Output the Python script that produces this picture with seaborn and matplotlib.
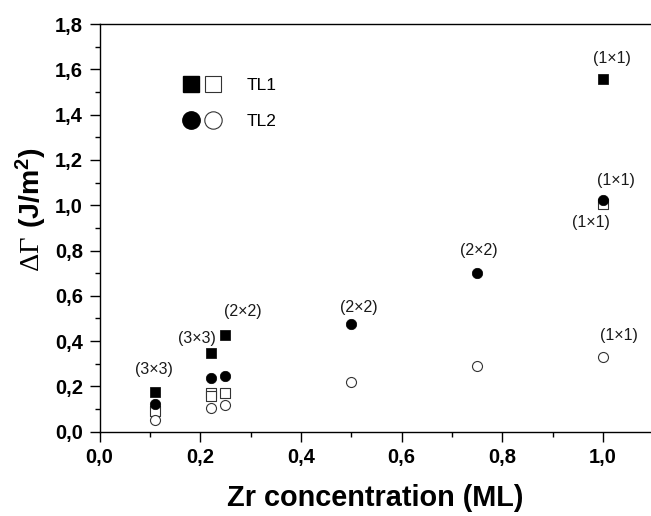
import numpy as np
import pandas as pd
import seaborn as sns
import matplotlib
matplotlib.use("Agg")
import matplotlib.pyplot as plt
from matplotlib.lines import Line2D
from matplotlib.legend_handler import HandlerTuple
from matplotlib.ticker import FixedLocator, MultipleLocator

# ---- data ----
tl1_filled_x = [0.111, 0.222, 0.25, 1.0]
tl1_filled_y = [0.177, 0.346, 0.427, 1.556]
tl1_open_x = [0.111, 0.222, 0.222, 0.25, 1.0]
tl1_open_y = [0.090, 0.169, 0.157, 0.173, 1.005]
tl2_filled_x = [0.111, 0.222, 0.25, 0.5, 0.75, 1.0]
tl2_filled_y = [0.121, 0.236, 0.247, 0.476, 0.699, 1.023]
tl2_open_x = [0.111, 0.222, 0.25, 0.5, 0.75, 1.0]
tl2_open_y = [0.052, 0.103, 0.118, 0.221, 0.290, 0.331]

ann_text = ["(3×3)", "(3×3)", "(2×2)", "(2×2)", "(2×2)", "(1×1)", "(1×1)", "(1×1)", "(1×1)"]
ann_x = [0.107, 0.193, 0.285, 0.514, 0.753, 1.017, 1.025, 0.975, 1.032]
ann_y = [0.275, 0.411, 0.529, 0.550, 0.799, 1.649, 1.108, 0.925, 0.423]

xtick_vals = [0.0, 0.2, 0.4, 0.6, 0.8, 1.0]
xtick_labels = ["0,0", "0,2", "0,4", "0,6", "0,8", "1,0"]
ytick_vals = [0.0, 0.2, 0.4, 0.6, 0.8, 1.0, 1.2, 1.4, 1.6, 1.8]
ytick_labels = ["0,0", "0,2", "0,4", "0,6", "0,8", "1,0", "1,2", "1,4", "1,6", "1,8"]
legend_labels = ["TL1", "TL2"]

sns.set_style("ticks")
plt.rcParams["font.family"] = ["Liberation Sans", "DejaVu Sans"]
plt.rcParams["mathtext.fontset"] = "custom"
plt.rcParams["mathtext.rm"] = "Liberation Serif"
plt.rcParams["mathtext.bf"] = "Liberation Sans:bold"
plt.rcParams["mathtext.sf"] = "Liberation Sans"
plt.rcParams["text.color"] = "black"
plt.rcParams["axes.labelcolor"] = "black"

fig = plt.figure(figsize=(6.51, 5.16), dpi=100)
ax = fig.add_axes([0.153, 0.1634, 0.847, 0.790])

open_ec = "#333333"
sns.scatterplot(x=tl1_open_x, y=tl1_open_y, marker="s", s=44, color="white",
                edgecolor=open_ec, linewidth=0.8, ax=ax, zorder=3)
sns.scatterplot(x=tl2_open_x, y=tl2_open_y, marker="o", s=52, color="white",
                edgecolor=open_ec, linewidth=0.8, ax=ax, zorder=3)
sns.scatterplot(x=tl1_filled_x, y=tl1_filled_y, marker="s", s=44, color="black",
                edgecolor="black", linewidth=0.5, ax=ax, zorder=4)
sns.scatterplot(x=tl2_filled_x, y=tl2_filled_y, marker="o", s=56, color="black",
                edgecolor="black", linewidth=0.5, ax=ax, zorder=4)

for t, x, y in zip(ann_text, ann_x, ann_y):
    ax.text(x, y, t, ha="center", va="center", fontsize=11.5, color="#1a1a1a")

ax.set_xlim(0, 1.095)
ax.set_ylim(0, 1.8)
ax.xaxis.set_major_locator(FixedLocator(xtick_vals))
ax.set_xticklabels(xtick_labels)
ax.yaxis.set_major_locator(FixedLocator(ytick_vals))
ax.set_yticklabels(ytick_labels)
ax.xaxis.set_minor_locator(MultipleLocator(0.1))
ax.yaxis.set_minor_locator(MultipleLocator(0.1))
ax.tick_params(which="major", direction="out", length=7, width=1.0, pad=5,
               labelsize=14.5, colors="black")
ax.tick_params(which="minor", direction="out", length=3.5, width=1.0, colors="black")
for lab in ax.get_xticklabels() + ax.get_yticklabels():
    lab.set_fontweight("bold")

for side in ["left", "bottom", "top"]:
    ax.spines[side].set_visible(True)
    ax.spines[side].set_linewidth(1.0)
    ax.spines[side].set_color("black")
ax.spines["right"].set_visible(False)

ax.set_xlabel("Zr concentration (ML)", fontsize=20.8, fontweight="bold",
              labelpad=12, color="black")
ax.set_ylabel(r"$\mathrm{\Delta\Gamma}\ \mathbf{(J/m^2)}$", fontsize=20.5, color="black")
ax.yaxis.set_label_coords(-0.092, 0.545)

h1 = (Line2D([], [], ls="none", marker="s", ms=12, mfc="black", mec="black"),
      Line2D([], [], ls="none", marker="s", ms=12, mfc="white", mec=open_ec, mew=0.8))
h2 = (Line2D([], [], ls="none", marker="o", ms=12.5, mfc="black", mec="black"),
      Line2D([], [], ls="none", marker="o", ms=12.5, mfc="white", mec=open_ec, mew=0.8))
ax.legend([h1, h2], legend_labels,
          handler_map={tuple: HandlerTuple(ndivide=None, pad=0.8)},
          handlelength=1.8, handletextpad=1.7, labelspacing=1.2,
          frameon=False, loc="upper left", bbox_to_anchor=(0.157, 0.868),
          borderpad=0, borderaxespad=0, fontsize=12.5, labelcolor="black")

fig.savefig("out.png", dpi=100)
